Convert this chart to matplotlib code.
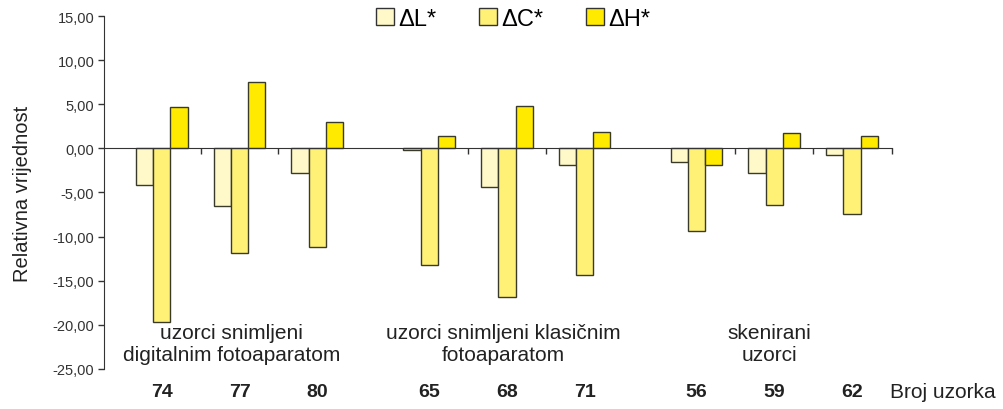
import numpy as np
import matplotlib
matplotlib.use("Agg")
import matplotlib.pyplot as plt
from matplotlib.ticker import FuncFormatter
from matplotlib.patches import Patch

plt.rcParams["font.family"] = ["Liberation Sans", "DejaVu Sans"]

# --- DATA ---
samples = ["74", "77", "80", "65", "68", "71", "56", "59", "62"]
groups = ["uzorci snimljeni\ndigitalnim fotoaparatom",
          "uzorci snimljeni klasičnim\nfotoaparatom",
          "skenirani\nuzorci"]
series_names = ["ΔL*", "ΔC*", "ΔH*"]
dL = [-4.2, -6.5, -2.8, -0.2, -4.4, -1.9, -1.5, -2.8, -0.8]
dC = [-19.7, -11.8, -11.2, -13.2, -16.8, -14.3, -9.4, -6.45, -7.4]
dH = [4.7, 7.5, 2.95, 1.35, 4.8, 1.9, -1.9, 1.75, 1.45]
yticks = [15, 10, 5, 0, -5, -10, -15, -20, -25]

colors = ["#FFF8C8", "#FFF176", "#FFEA00"]

# --- LAYOUT ---
group_gap = 3.44
x = np.array([g * group_gap + i for g in range(3) for i in range(3)])
width = 0.222

fig = plt.figure(figsize=(10.04, 4.10), dpi=100)
ax = fig.add_axes([0.1036, 0.0976, 0.888 - 0.1036, 0.9585 - 0.0976])

for k, (vals, col) in enumerate(zip([dL, dC, dH], colors)):
    ax.bar(x + (k - 1) * width, vals, width, color=col, edgecolor="#3a3a2a",
           linewidth=1.0, zorder=3)

ax.set_ylim(-25, 15)
ax.set_xlim(x[0] - 0.744, x[-1] + 0.51)
ax.set_yticks(yticks)
ax.yaxis.set_major_formatter(FuncFormatter(lambda v, p: f"{v:.2f}".replace(".", ",")))
ax.tick_params(axis="y", labelsize=10.5, labelcolor="#333333", length=4,
               width=1, color="#333333", pad=3)

for s in ["top", "right"]:
    ax.spines[s].set_visible(False)
ax.spines["bottom"].set_position(("data", 0))
ax.spines["bottom"].set_zorder(4)
ax.spines["left"].set_color("#333333")
ax.spines["bottom"].set_color("#333333")

# ticks on zero line between samples within groups
xt = []
for g in range(3):
    base = g * group_gap
    xt += [base + 0.5, base + 1.5]
xt.append(x[-1] + 0.51)
ax.set_xticks(xt)
ax.set_xticklabels([])
ax.tick_params(axis="x", direction="out", length=4, width=1, color="#333333")

# sample numbers
for xi, s in zip(x, samples):
    ax.text(xi, -27.6, s, ha="center", va="center", fontsize=14,
            fontweight="bold", color="#222222")
ax.text(x[-1] + 0.49, -27.6, "Broj uzorka", ha="left", va="center",
        fontsize=15, color="#222222", clip_on=False)

# group labels
offsets = [-0.1, -0.05, -0.06]
for g, lab in enumerate(groups):
    ax.text(g * group_gap + 1 + offsets[g], -22.1, lab, ha="center",
            va="center", fontsize=15, color="#222222", linespacing=1.15)

ax.set_ylabel("Relativna vrijednost", fontsize=14.5, color="#222222", labelpad=15)

handles = [Patch(facecolor=c, edgecolor="#333333", linewidth=1.0) for c in colors]
fig.legend(handles, series_names, loc="upper center", bbox_to_anchor=(0.511, 1.03),
           ncol=3, frameon=False, fontsize=17, handlelength=0.75, handleheight=0.75,
           handletextpad=0.2, columnspacing=1.8)

fig.savefig("out.png", dpi=100)
